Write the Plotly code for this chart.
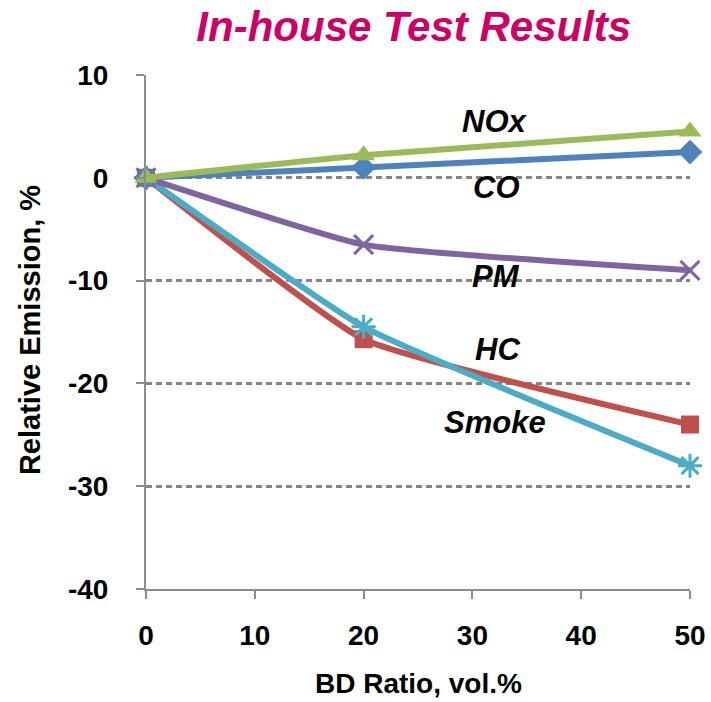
import plotly.graph_objects as go

x_vals = [0, 20, 50]
nox = [0, 2.2, 4.5]
co = [0, 1.0, 2.5]
pm = [0, -6.5, -9.0]
hc = [0, -15.7, -24.0]
smoke = [0, -14.5, -28.0]

x_ticks = [0, 10, 20, 30, 40, 50]
y_ticks = [10, 0, -10, -20, -30, -40]
y_tick_text = ["10", "0", "-10", "-20", "-30", "-40"]

series = [
    ("HC", hc, "#C0504D", dict(symbol="square", size=18)),
    ("Smoke", smoke, "#4BACC6", dict(symbol="asterisk-open", size=20, line=dict(width=3, color="#4BACC6"))),
    ("PM", pm, "#8064A2", dict(symbol="x-thin-open", size=19, line=dict(width=3, color="#8064A2"))),
    ("CO", co, "#4F81BD", dict(symbol="diamond", size=19)),
    ("NOx", nox, "#9BBB59", dict(symbol="triangle-up", size=20)),
]

labels = ["NOx", "CO", "PM", "HC", "Smoke"]
label_x = [32.1, 32.2, 32.2, 32.3, 32.1]
label_y = [5.5, -0.9, -9.6, -16.7, -23.8]

fig = go.Figure()
for name, vals, color, marker in series:
    m = dict(color=color, **marker)
    fig.add_trace(go.Scatter(
        x=x_vals, y=vals, mode="lines+markers", name=name,
        line=dict(color=color, width=6, shape="spline", smoothing=0.4),
        marker=m, cliponaxis=False, showlegend=False,
    ))

for t, lx, ly in zip(labels, label_x, label_y):
    fig.add_annotation(x=lx, y=ly, text=t, showarrow=False,
                       font=dict(family="Liberation Sans", size=31, color="black", weight="bold", style="italic"))

tick_font = dict(family="Liberation Sans", size=28, color="black", weight="bold")
title_font = dict(family="Liberation Sans", size=28, color="black", weight="bold")

fig.add_annotation(xref="paper", yref="paper", x=0.5, y=-0.183, text="BD Ratio, vol.%",
                   showarrow=False, xanchor="center", yanchor="middle", font=title_font)
fig.add_annotation(xref="paper", yref="paper", x=-0.213, y=0.504, text="Relative Emission, %",
                   showarrow=False, xanchor="center", yanchor="middle", textangle=-90,
                   font=dict(title_font, size=29))

fig.update_layout(
    width=711, height=702,
    margin=dict(l=146, r=21, t=75, b=113, autoexpand=False),
    plot_bgcolor="white", paper_bgcolor="white",
    title=dict(text="In-house Test Results", x=0.582, xanchor="center", y=0.962, yanchor="middle",
               font=dict(family="Liberation Sans", size=42, color="#CC0066", weight="bold", style="italic")),
    xaxis=dict(range=[0, 50], tickvals=x_ticks, showgrid=False, automargin=False,
               showline=True, linecolor="#8C8C8C", linewidth=2,
               ticks="outside", ticklen=8, tickcolor="#8C8C8C", tickwidth=2,
               tickfont=tick_font, zeroline=False, ticklabelstandoff=12),
    yaxis=dict(range=[-40, 10], tickvals=y_ticks, ticktext=y_tick_text, showgrid=True, automargin=False,
               gridcolor="#858585", gridwidth=2.5, griddash="6px,4px",
               showline=True, linecolor="#8C8C8C", linewidth=2,
               ticks="outside", ticklen=8, tickcolor="#8C8C8C", tickwidth=2,
               tickfont=tick_font, zeroline=False, ticklabelstandoff=22),
)
fig.write_html("out.html")
